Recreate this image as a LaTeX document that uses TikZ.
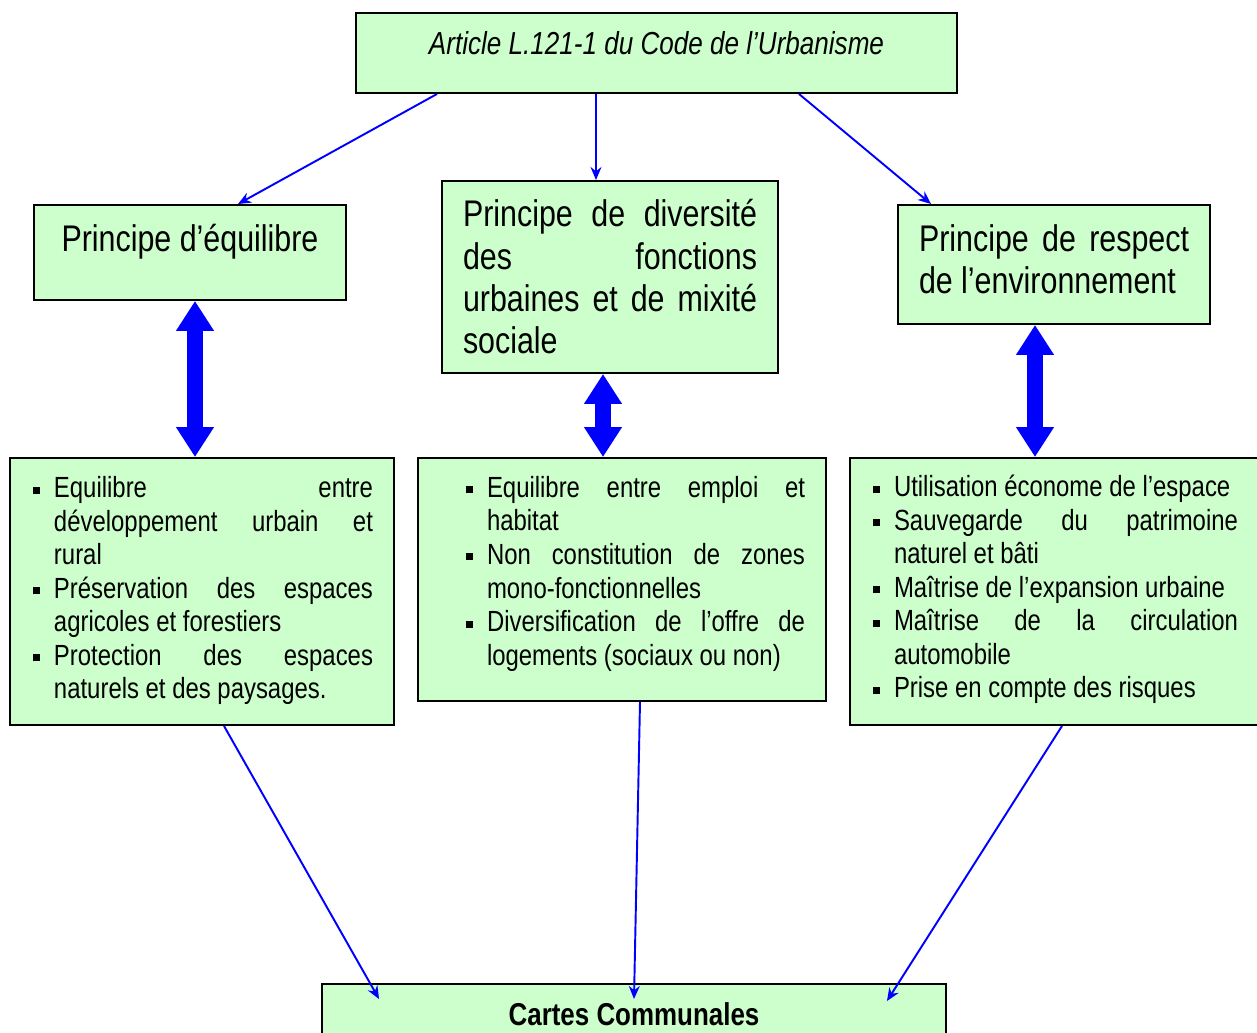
\documentclass[tikz,border=0pt]{standalone}
\usepackage{fontspec}
\setmainfont[FakeStretch=0.82]{Liberation Sans}
\usetikzlibrary{arrows.meta}

\definecolor{vertpale}{HTML}{CCFFCC}
\definecolor{bleu}{HTML}{0000FF}

\newlength{\pix}\setlength{\pix}{0.02cm}
\newlength{\pucehang}\setlength{\pucehang}{23\pix}
\newcommand{\puce}{\par\noindent\hangindent=\pucehang\hangafter=1%
  \makebox[\pucehang][l]{\hspace{2\pix}\rule[4\pix]{7\pix}{7\pix}}\ignorespaces}

\hyphenpenalty=10000
\exhyphenpenalty=10000
\tolerance=9999

\begin{document}
\begin{tikzpicture}[
    x=0.02cm, y=-0.02cm,
    boite/.style={rectangle, draw=black, line width=1.1pt, fill=vertpale, inner sep=0pt},
    principe/.style={boite, align=justify, inner xsep=21\pix, font=\fontsize{21.1}{24.1}\selectfont},
    liste/.style={boite, align=justify, inner xsep=21\pix, font=\fontsize{16.6}{19.1}\selectfont},
    fleche/.style={-{Stealth[length=7.4pt, width=6.2pt]}, draw=bleu, line width=1.1pt},
    doublefleche/.style={{Triangle[length=17pt, width=20.4pt]}-{Triangle[length=17pt, width=20.4pt]}, draw=bleu, line width=16\pix}
]

\path[use as bounding box, fill=white] (0,0) rectangle (1257,1033);

% Article
\node[boite, minimum width=601\pix, minimum height=80\pix, text height=25\pix, text depth=21\pix,
      font=\fontsize{18.1}{21}\selectfont\itshape] (article) at (656.5,53) {Article L.121-1 du Code de l’Urbanisme};

% Principes
\node[principe, minimum width=312\pix, minimum height=95\pix, text height=27\pix, text depth=28\pix] (equilibre) at (190,252.5) {Principe d’équilibre};
\node[principe, text width=294\pix, minimum height=192\pix] (diversite) at (610,277)
    {Principe de diversité\linebreak des fonctions\linebreak urbaines et de mixité\linebreak sociale};
\node[principe, text width=270\pix, minimum height=119\pix] (respect) at (1054,264.5)
    {Principe de respect\linebreak de l’environnement\par\kern10\pix};

% Listes
\node[liste, text width=342\pix, minimum height=267\pix] (liste1) at (202,591.5) {%
    \puce Equilibre entre\linebreak développement urbain et\linebreak rural
    \puce Préservation des espaces\linebreak agricoles et forestiers
    \puce Protection des espaces\linebreak naturels et des paysages.\par\kern14\pix};
\node[liste, text width=366\pix, minimum height=243\pix] (liste2) at (622,579.5) {%
    \leftskip=25\pix
    \puce Equilibre entre emploi et\linebreak habitat
    \puce Non constitution de zones\linebreak mono-fonctionnelles
    \puce Diversification de l’offre de\linebreak logements (sociaux ou non)\par\kern24\pix};
\node[liste, text width=367\pix, minimum height=267\pix] (liste3) at (1054.5,591.5) {%
    \puce Utilisation économe de l’espace
    \puce Sauvegarde du patrimoine\linebreak naturel et bâti
    \puce Maîtrise de l’expansion urbaine
    \puce Maîtrise de la circulation\linebreak automobile
    \puce Prise en compte des risques\par\kern16\pix};

% Cartes communales
\node[boite, minimum width=624\pix, minimum height=60\pix, font=\fontsize{18}{21}\selectfont\bfseries] (cartes) at (634,1014) {Cartes Communales};

% Fleches
\draw[fleche] ([xshift=82\pix]article.south west) -- ([xshift=48\pix]equilibre.north);
\draw[fleche] ([xshift=-60.5\pix]article.south) -- ([xshift=-14\pix]diversite.north);
\draw[fleche] ([xshift=-159\pix]article.south east) -- ([xshift=34\pix]respect.north west);

\draw[doublefleche] ([xshift=5\pix]equilibre.south) -- ([xshift=-7\pix]liste1.north);
\draw[doublefleche] ([xshift=-7\pix]diversite.south) -- ([xshift=-19\pix]liste2.north);
\draw[doublefleche] ([xshift=-19\pix]respect.south) -- ([xshift=-19.5\pix]liste3.north);

\draw[fleche] ([xshift=22\pix]liste1.south) -- ([xshift=58\pix, yshift=-16\pix]cartes.north west);
\draw[fleche] ([xshift=18\pix]liste2.south) -- ([yshift=-16\pix]cartes.north);
\draw[fleche] ([xshift=7.5\pix]liste3.south) -- ([xshift=-60\pix, yshift=-18\pix]cartes.north east);

\end{tikzpicture}
\end{document}
